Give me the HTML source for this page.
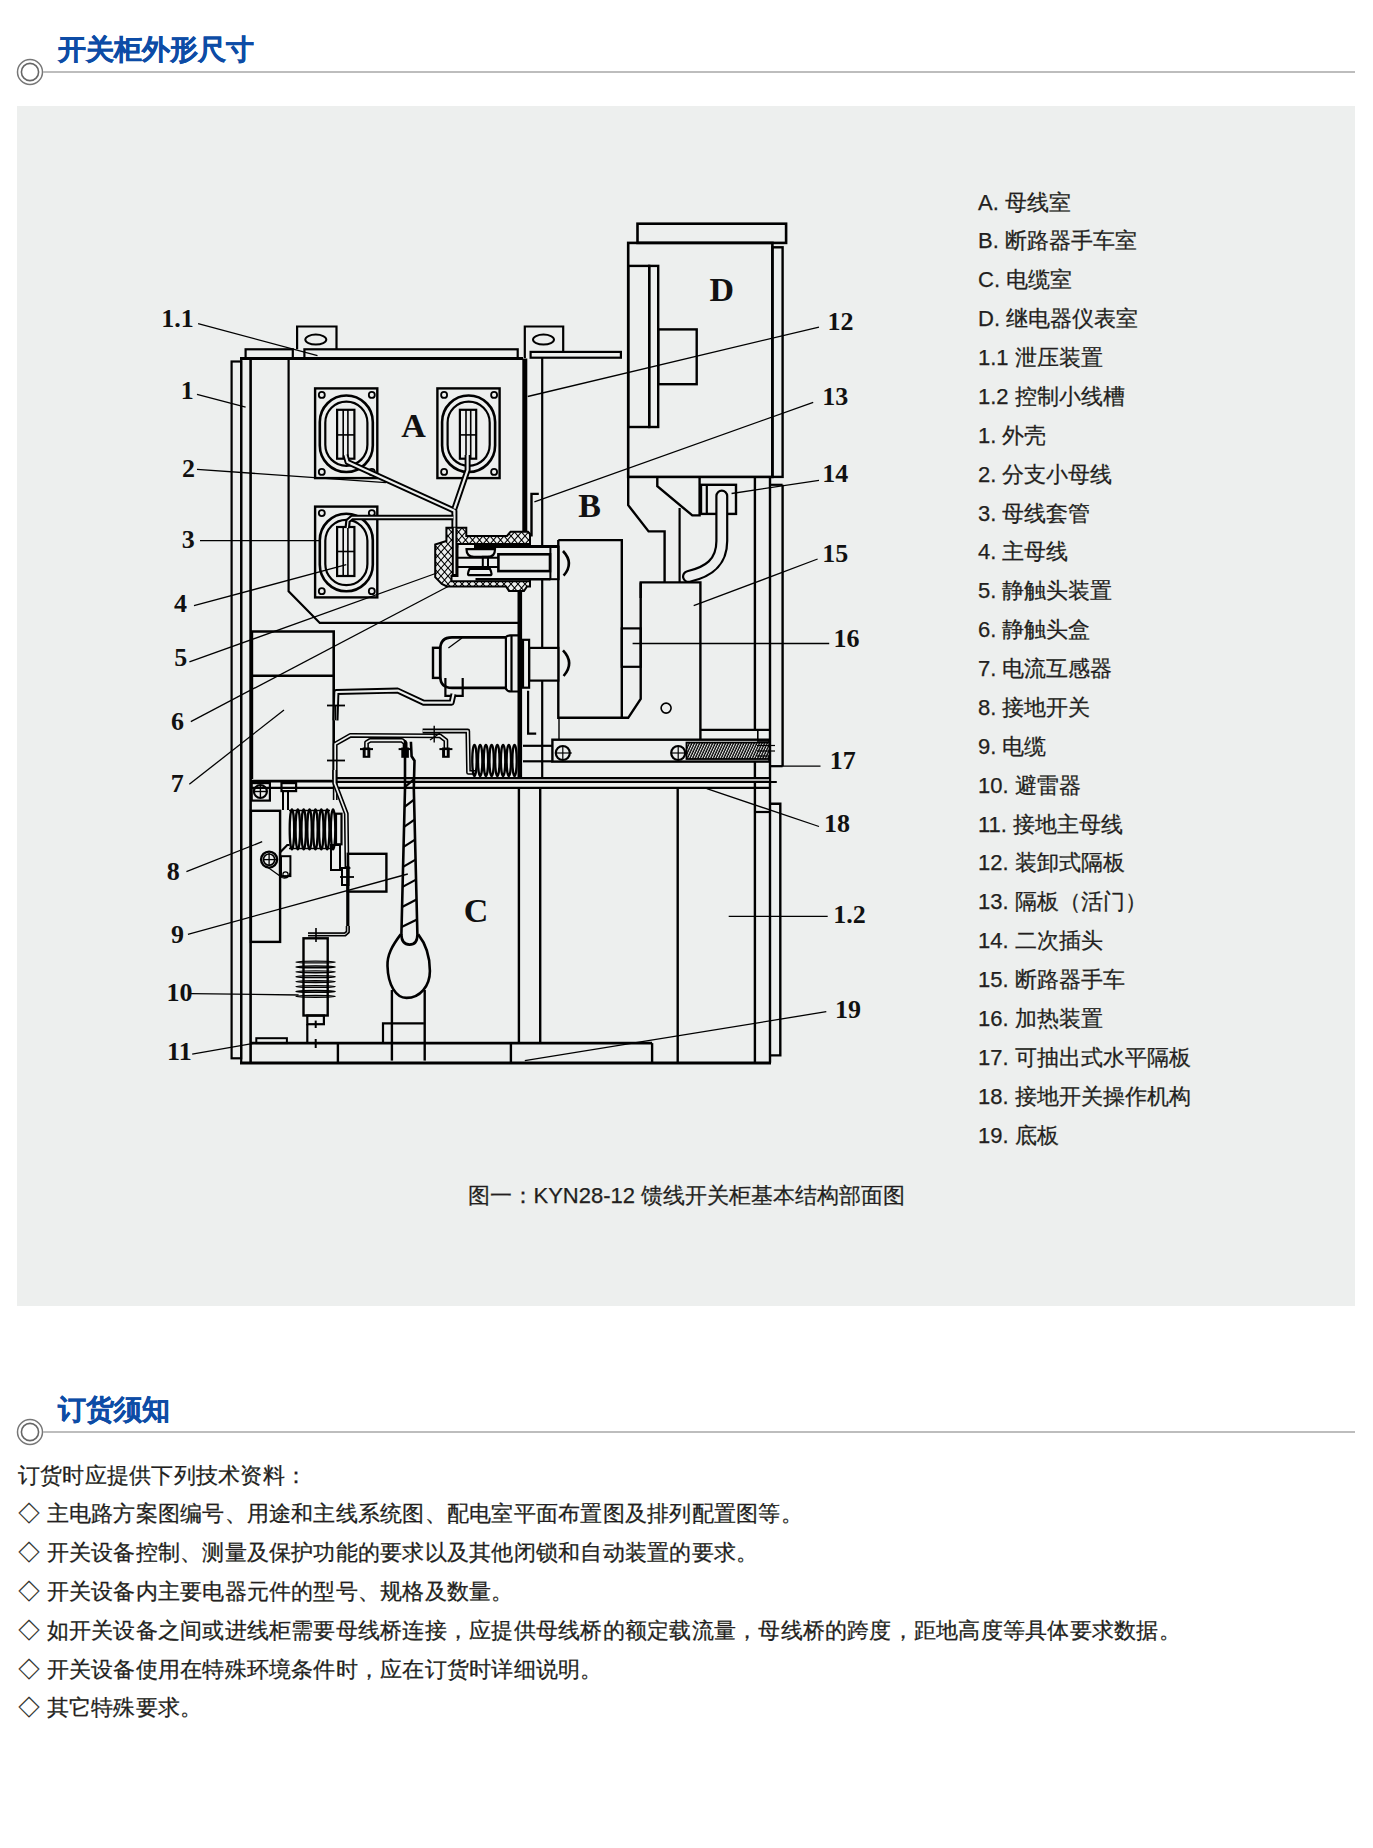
<!DOCTYPE html>
<html><head><meta charset="utf-8">
<style>
html,body{margin:0;padding:0;background:#fff;}
body{width:1373px;height:1848px;position:relative;overflow:hidden;font-family:"Liberation Sans",sans-serif;color:#231f20;}
.hd{position:absolute;left:0;}
.ht{position:absolute;left:58px;font-size:27.5px;font-weight:bold;color:#0d4ca6;-webkit-text-stroke:0.35px #0d4ca6;line-height:36px;white-space:nowrap;}
.gray{position:absolute;left:17px;top:106px;width:1338px;height:1200px;background:#edefee;}
.li{position:absolute;left:978px;font-size:22px;line-height:38px;white-space:nowrap;color:#231f20;-webkit-text-stroke:0.25px #231f20;}
.cap{position:absolute;left:467.5px;top:1176.5px;font-size:22px;line-height:38px;white-space:nowrap;-webkit-text-stroke:0.25px #231f20;}
.bl{position:absolute;left:18px;font-size:22px;letter-spacing:0.24px;line-height:38px;white-space:nowrap;-webkit-text-stroke:0.25px #231f20;}
svg.dg{position:absolute;left:0;top:0;}
svg.dg text{font-family:"Liberation Serif",serif;font-weight:bold;fill:#111;stroke:none;}
</style></head><body>
<svg class="hd" style="top:58px" width="1373" height="28" viewBox="0 58 1373 28">
<circle cx="30" cy="72" r="12.5" fill="#fff" stroke="#777" stroke-width="1.5"/>
<circle cx="30" cy="72" r="8.6" fill="none" stroke="#666" stroke-width="1.6"/>
<line x1="43" y1="72" x2="1355" y2="72" stroke="#bdbdbd" stroke-width="2"/>
</svg>
<div class="ht" style="top:31.5px">开关柜外形尺寸</div>
<div class="gray"></div>
<svg class="dg" width="1373" height="1848" viewBox="0 0 1373 1848">
<defs>
<pattern id="hx" width="7" height="8" patternUnits="userSpaceOnUse">
<rect width="7" height="8" fill="#edefee"/>
<path d="M0,0 L7,8 M7,0 L0,8" stroke="#000" stroke-width="1.1"/>
</pattern>
<pattern id="hz" width="2.6" height="16" patternUnits="userSpaceOnUse" patternTransform="skewX(-25)">
<rect width="2.6" height="16" fill="#edefee"/>
<line x1="1" y1="0" x2="1" y2="16" stroke="#000" stroke-width="1.5"/>
</pattern>
</defs>
<g stroke="#000" fill="none" stroke-linecap="butt">
<rect x="231.6" y="361.5" width="9.6" height="696.8" stroke-width="2.2" fill="none"/>
<line x1="241.2" y1="358.6" x2="241.2" y2="1063.5" stroke-width="2.2"/>
<line x1="250.6" y1="358.6" x2="250.6" y2="1063" stroke-width="2.6"/>
<line x1="240" y1="358.6" x2="523" y2="358.6" stroke-width="3.0"/>
<rect x="245.6" y="349.3" width="47.2" height="9.3" stroke-width="2.2" fill="none"/>
<polyline points="297.1,349.3 297.1,326.5 336.5,326.5 336.5,349.3" stroke-width="2.2" fill="none"/>
<ellipse cx="315.8" cy="339.6" rx="10.5" ry="5.0" stroke-width="2.0" fill="none"/>
<rect x="304.4" y="349.3" width="213.3" height="9.3" stroke-width="2.2" fill="none"/>
<polyline points="524.8,358 524.8,326.5 563.2,326.5 563.2,351.9" stroke-width="2.2" fill="none"/>
<ellipse cx="543.5" cy="339.6" rx="10.5" ry="5.0" stroke-width="2.0" fill="none"/>
<rect x="530.6" y="351.9" width="90.3" height="5.8" stroke-width="2.2" fill="none"/>
<polyline points="288.6,358.6 288.6,591.3 319.8,622.9 518,622.9" stroke-width="2.2" fill="none"/>
<line x1="524.8" y1="358.6" x2="524.8" y2="532.4" stroke-width="5.0"/>
<line x1="542.2" y1="357.7" x2="542.2" y2="779" stroke-width="2.2"/>
<line x1="519.8" y1="588" x2="519.8" y2="778" stroke-width="4.6"/>
<rect x="315.1" y="388.4" width="62.2" height="89.7" stroke-width="2.4" fill="none"/>
<circle cx="321.8" cy="394.9" r="3.0" stroke-width="1.8" fill="none"/>
<circle cx="371.8" cy="394.9" r="3.0" stroke-width="1.8" fill="none"/>
<circle cx="321.8" cy="471.90000000000003" r="3.0" stroke-width="1.8" fill="none"/>
<circle cx="371.8" cy="471.90000000000003" r="3.0" stroke-width="1.8" fill="none"/>
<rect x="319.8" y="395.5" width="53.0" height="76.5" stroke-width="2.6" fill="none" rx="26.5"/>
<rect x="325.3" y="401.59999999999997" width="42.1" height="64.2" stroke-width="2.2" fill="none" rx="21.05000000000001"/>
<rect x="337.1" y="409.8" width="17.3" height="48.9" stroke-width="2.2" fill="none"/>
<line x1="343.20000000000005" y1="409.8" x2="343.20000000000005" y2="458.7" stroke-width="1.6"/>
<line x1="347.90000000000003" y1="409.8" x2="347.90000000000003" y2="458.7" stroke-width="1.6"/>
<line x1="337.1" y1="434.9" x2="354.4" y2="434.9" stroke-width="1.6"/>
<rect x="437.4" y="388.4" width="62.2" height="89.7" stroke-width="2.4" fill="none"/>
<circle cx="444.09999999999997" cy="394.9" r="3.0" stroke-width="1.8" fill="none"/>
<circle cx="494.1" cy="394.9" r="3.0" stroke-width="1.8" fill="none"/>
<circle cx="444.09999999999997" cy="471.90000000000003" r="3.0" stroke-width="1.8" fill="none"/>
<circle cx="494.1" cy="471.90000000000003" r="3.0" stroke-width="1.8" fill="none"/>
<rect x="442.09999999999997" y="395.5" width="53.0" height="76.5" stroke-width="2.6" fill="none" rx="26.50000000000003"/>
<rect x="447.59999999999997" y="401.59999999999997" width="42.1" height="64.2" stroke-width="2.2" fill="none" rx="21.05000000000004"/>
<rect x="459.9" y="409.8" width="16.3" height="48.9" stroke-width="2.2" fill="none"/>
<line x1="466.0" y1="409.8" x2="466.0" y2="458.7" stroke-width="1.6"/>
<line x1="470.7" y1="409.8" x2="470.7" y2="458.7" stroke-width="1.6"/>
<line x1="459.9" y1="434.9" x2="476.2" y2="434.9" stroke-width="1.6"/>
<rect x="315.1" y="506.6" width="62.2" height="90.8" stroke-width="2.4" fill="none"/>
<circle cx="321.8" cy="513.1" r="3.0" stroke-width="1.8" fill="none"/>
<circle cx="371.8" cy="513.1" r="3.0" stroke-width="1.8" fill="none"/>
<circle cx="321.8" cy="591.1999999999999" r="3.0" stroke-width="1.8" fill="none"/>
<circle cx="371.8" cy="591.1999999999999" r="3.0" stroke-width="1.8" fill="none"/>
<rect x="319.8" y="513.7" width="53.0" height="77.6" stroke-width="2.6" fill="none" rx="26.5"/>
<rect x="325.3" y="519.8000000000001" width="42.1" height="65.3" stroke-width="2.2" fill="none" rx="21.05000000000001"/>
<rect x="337.1" y="527.0" width="17.3" height="49.0" stroke-width="2.2" fill="none"/>
<line x1="343.20000000000005" y1="527.0" x2="343.20000000000005" y2="576.0" stroke-width="1.6"/>
<line x1="347.90000000000003" y1="527.0" x2="347.90000000000003" y2="576.0" stroke-width="1.6"/>
<line x1="337.1" y1="551.5" x2="354.4" y2="551.5" stroke-width="1.6"/>
<path d="M345.5,455 L347.5,462 L454.4,510.7 L454.4,574" stroke-width="6.0" fill="none" stroke-linejoin="round"/>
<path d="M345.5,455 L347.5,462 L454.4,510.7 L454.4,574" stroke-width="2.2" fill="none" stroke="#edefee" stroke-linejoin="round"/>
<path d="M467.6,455 L467.6,470 L454.4,508.7" stroke-width="6.0" fill="none" stroke-linejoin="round"/>
<path d="M467.6,455 L467.6,470 L454.4,508.7" stroke-width="2.2" fill="none" stroke="#edefee" stroke-linejoin="round"/>
<path d="M347.3,528 L348,521 L352,517.5 L453.3,517.5" stroke-width="5.6" fill="none" stroke-linejoin="round"/>
<path d="M347.3,528 L348,521 L352,517.5 L453.3,517.5" stroke-width="1.3" fill="none" stroke="#edefee" stroke-linejoin="round"/>
<path d="M446.4,527.7 L466.3,527.7 L466.3,535.9 L507,535.9 L510.5,531.8 L528,531.8 L530,534 L530,586.4 L527,586.4 L524,591 L509,591 L506,586.4 L447,586.4 L441.8,584 L435.2,577.2 L435.2,544.6 L446.4,541 Z M457.6,544.1 L530,544.1 L530,581.3 L451.5,581.3 L451.5,576 L457.6,576 Z" stroke-width="2.0" fill="url(#hx)" fill-rule="evenodd"/>
<path d="M454.6,527.7 L454.6,575" stroke-width="5.6" fill="none" stroke-linejoin="round"/>
<path d="M454.6,527.7 L454.6,575" stroke-width="1.6" fill="none" stroke="#edefee" stroke-linejoin="round"/>
<line x1="451.6" y1="575" x2="457.8" y2="575" stroke-width="2.0"/>
<rect x="458.8" y="547.8" width="98.6" height="30.2" fill="#edefee" stroke="none"/>
<line x1="474" y1="546.6" x2="558.6" y2="546.6" stroke-width="3.0"/>
<line x1="475.5" y1="579.2" x2="550.4" y2="579.2" stroke-width="2.4"/>
<line x1="457.6" y1="557.8" x2="498.4" y2="557.8" stroke-width="2.0"/>
<line x1="457.6" y1="567" x2="498.4" y2="567" stroke-width="2.0"/>
<rect x="498.4" y="554.3" width="51.6" height="16.8" stroke-width="2.6" fill="none"/>
<rect x="550.4" y="546.6" width="8.2" height="32.6" stroke-width="2.0" fill="none"/>
<path d="M466.5,549.2 L495,549.2 Q495,556.8 488,556.8 L474,556.8 Q466.5,556.8 466.5,549.2 Z" stroke-width="2.2" fill="none"/>
<path d="M469.5,569 L490,569 Q493,575.2 490,575.2 L469.5,575.2 Q466.5,575.2 469.5,569 Z" stroke-width="2.2" fill="none"/>
<rect x="482.8" y="556.8" width="5.2" height="12.2" stroke-width="2.0" fill="none"/>
<rect x="637.5" y="223.7" width="148.6" height="19.2" stroke-width="2.6" fill="none"/>
<rect x="628.2" y="242.9" width="144.2" height="234.0" stroke-width="2.6" fill="none"/>
<rect x="772.4" y="247.3" width="10.2" height="229.6" stroke-width="2.4" fill="none"/>
<rect x="628.2" y="265.9" width="21.0" height="161.1" stroke-width="2.4" fill="none"/>
<rect x="649.2" y="265.9" width="9.0" height="161.1" stroke-width="2.4" fill="none"/>
<rect x="658.2" y="329.4" width="38.5" height="54.8" stroke-width="2.4" fill="none"/>
<polyline points="628.2,476.9 628.2,505.2 648.6,531.4 664.6,531.4 664.6,582.4" stroke-width="2.4" fill="none"/>
<polyline points="657.3,476.9 657.3,486.2 692.3,515.4 699.6,515.4 699.6,476.9" stroke-width="2.4" fill="none"/>
<line x1="679.6" y1="508" x2="679.6" y2="582.4" stroke-width="2.2"/>
<rect x="701" y="484.8" width="35" height="29.1" stroke-width="2.4" fill="none"/>
<line x1="706.8" y1="484.8" x2="706.8" y2="513.9" stroke-width="2.2"/>
<path d="M721.8,496 L721.8,541 C721.8,563 708,572 688.5,576.5" stroke-width="13" fill="none" stroke-linecap="round"/>
<path d="M721.8,496 L721.8,541 C721.8,563 708,572 688.5,576.5" stroke-width="8.6" fill="none" stroke="#edefee" stroke-linecap="round"/>
<line x1="770" y1="484.8" x2="782.6" y2="484.8" stroke-width="2.2"/>
<line x1="754.9" y1="476.9" x2="754.9" y2="730" stroke-width="2.4"/>
<line x1="754.9" y1="761" x2="754.9" y2="1062.7" stroke-width="2.4"/>
<line x1="770.0" y1="476.9" x2="770.0" y2="1062.7" stroke-width="2.4"/>
<line x1="782.6" y1="484.8" x2="782.6" y2="766.2" stroke-width="2.4"/>
<line x1="770" y1="766.2" x2="782.6" y2="766.2" stroke-width="2.2"/>
<polyline points="640.7,598 640.7,582.4 700.4,582.4 700.4,740" stroke-width="2.4" fill="none"/>
<line x1="559" y1="717.8" x2="559" y2="740" stroke-width="1.4"/>
<line x1="700.4" y1="729.8" x2="770" y2="729.8" stroke-width="2.2"/>
<rect x="757.8" y="729.8" width="12.2" height="11.2" stroke-width="1.6" fill="none"/>
<polyline points="558.3,540.1 621.8,540.1 621.8,717.8 558.3,717.8 558.3,540.1" stroke-width="2.4" fill="none"/>
<polyline points="640.7,582.4 640.7,698.9 628.2,717.8 621.8,717.8" stroke-width="2.4" fill="none"/>
<rect x="621.8" y="628.4" width="18.9" height="38.4" stroke-width="2.2" fill="none"/>
<path d="M563,551 Q574.5,563.3 563.6,575.7" stroke-width="2.6" fill="none"/>
<path d="M563,650.4 Q575,663 563.6,676" stroke-width="2.6" fill="none"/>
<circle cx="666.1" cy="708.1" r="5.0" stroke-width="1.6" fill="none"/>
<rect x="529.1" y="647.9" width="29.2" height="32.7" stroke-width="2.2" fill="#edefee"/>
<rect x="523" y="639.8" width="6.1" height="47.9" stroke-width="2.2" fill="none"/>
<polyline points="251.9,779 251.9,631.5 333.7,631.5 333.7,779" stroke-width="2.6" fill="none"/>
<line x1="251.9" y1="675.7" x2="333.7" y2="675.7" stroke-width="2.6"/>
<path d="M506,637.4 L452,637.4 Q440.2,637.4 440.2,649.4 L440.2,676 Q440.2,687.9 452,687.9 L506,687.9" stroke-width="2.6" fill="none"/>
<rect x="433" y="647.8" width="7.2" height="30.1" stroke-width="2.4" fill="none"/>
<path d="M505.5,637.4 Q507,635.4 510.5,635.4 L518,635.4 M505.5,687.9 Q507,691.5 510.5,691.5 L518,691.5" stroke-width="2.2" fill="none"/>
<line x1="505.9" y1="637.4" x2="505.9" y2="687.9" stroke-width="2.2"/>
<line x1="511.5" y1="635.4" x2="511.5" y2="691.5" stroke-width="2.2"/>
<line x1="448.4" y1="648" x2="462" y2="638" stroke-width="1.3"/>
<polyline points="445.4,677.9 445.4,695.9 462.7,695.9 462.7,677.9" stroke-width="2.2" fill="none"/>
<path d="M335.5,720.3 L336.4,692 L397.7,690.6 L423.7,702.7 L451.6,702.7 L453.5,694" stroke-width="6.0" fill="none" stroke-linejoin="round"/>
<path d="M335.5,720.3 L336.4,692 L397.7,690.6 L423.7,702.7 L451.6,702.7 L453.5,694" stroke-width="2.2" fill="none" stroke="#edefee" stroke-linejoin="round"/>
<polyline points="528.1,690.8 528.1,733.6 536.2,733.6" stroke-width="2.2" fill="none"/>
<rect x="552.4" y="739.7" width="217.1" height="21.9" stroke-width="2.4" fill="none"/>
<circle cx="562.8" cy="753.0" r="7.0" stroke-width="2.2" fill="none"/>
<line x1="555.8" y1="753" x2="571.8" y2="753" stroke-width="1.2"/>
<line x1="562.8" y1="746" x2="562.8" y2="760" stroke-width="1.2"/>
<circle cx="678.2" cy="753.0" r="7.0" stroke-width="2.2" fill="none"/>
<line x1="671.2" y1="753" x2="687.2" y2="753" stroke-width="1.2"/>
<line x1="678.2" y1="746" x2="678.2" y2="760" stroke-width="1.2"/>
<rect x="686.5" y="742.6" width="83.0" height="16.4" stroke-width="1.8" fill="url(#hz)"/>
<line x1="757" y1="745.5" x2="775" y2="745.5" stroke-width="1.2"/>
<line x1="757" y1="751" x2="775" y2="751" stroke-width="1.2"/>
<line x1="757" y1="756" x2="770" y2="756" stroke-width="1.2"/>
<line x1="523" y1="745.8" x2="552.4" y2="745.8" stroke-width="2.2"/>
<line x1="523" y1="761.3" x2="552.4" y2="761.3" stroke-width="2.2"/>
<rect x="335" y="778.9" width="434" height="2.1" fill="#b0b0b0" stroke="none"/>
<line x1="250.6" y1="781.2" x2="336" y2="781.2" stroke-width="2.8"/>
<line x1="335" y1="777.9" x2="769" y2="777.9" stroke-width="2.0"/>
<line x1="335" y1="782" x2="776.8" y2="782" stroke-width="2.0"/>
<line x1="250.6" y1="787.9" x2="771" y2="787.9" stroke-width="2.2"/>
<path d="M335.2,800 L335.2,744 L350.5,735.3 L440,735.8 L445.9,740.4 L445.9,756.4" stroke-width="4.8" fill="none" stroke-linejoin="round"/>
<path d="M335.2,800 L335.2,744 L350.5,735.3 L440,735.8 L445.9,740.4 L445.9,756.4" stroke-width="1.7" fill="none" stroke="#edefee" stroke-linejoin="round"/>
<path d="M422.6,731 L467.8,731 L468.5,772.4 L475,772.4" stroke-width="4.8" fill="none" stroke-linejoin="round"/>
<path d="M422.6,731 L467.8,731 L468.5,772.4 L475,772.4" stroke-width="1.7" fill="none" stroke="#edefee" stroke-linejoin="round"/>
<path d="M366.5,756.4 L366.5,742.5 L370,740.4 L402,740.4 L405.1,743 L405.1,756" stroke-width="4.8" fill="none" stroke-linejoin="round"/>
<path d="M366.5,756.4 L366.5,742.5 L370,740.4 L402,740.4 L405.1,743 L405.1,756" stroke-width="1.7" fill="none" stroke="#edefee" stroke-linejoin="round"/>
<line x1="360.0" y1="749.1" x2="373.0" y2="749.1" stroke-width="2.0"/>
<rect x="363.7" y="748.5" width="5.6" height="8.3" stroke-width="2.0" fill="none"/>
<line x1="398.6" y1="749.1" x2="411.6" y2="749.1" stroke-width="2.0"/>
<rect x="402.3" y="748.5" width="5.6" height="8.3" stroke-width="2.0" fill="none"/>
<line x1="439.4" y1="749.1" x2="452.4" y2="749.1" stroke-width="2.0"/>
<rect x="443.09999999999997" y="748.5" width="5.6" height="8.3" stroke-width="2.0" fill="none"/>
<line x1="434.2" y1="725.8" x2="434.2" y2="742.6" stroke-width="1.4"/>
<ellipse cx="474.46" cy="760.45" rx="2.18" ry="15.650000000000034" stroke-width="2.3" fill="none"/>
<ellipse cx="480.19" cy="760.45" rx="2.18" ry="15.650000000000034" stroke-width="2.3" fill="none"/>
<ellipse cx="485.91" cy="760.45" rx="2.18" ry="15.650000000000034" stroke-width="2.3" fill="none"/>
<ellipse cx="491.64" cy="760.45" rx="2.18" ry="15.650000000000034" stroke-width="2.3" fill="none"/>
<ellipse cx="497.36" cy="760.45" rx="2.18" ry="15.650000000000034" stroke-width="2.3" fill="none"/>
<ellipse cx="503.09" cy="760.45" rx="2.18" ry="15.650000000000034" stroke-width="2.3" fill="none"/>
<ellipse cx="508.81" cy="760.45" rx="2.18" ry="15.650000000000034" stroke-width="2.3" fill="none"/>
<ellipse cx="514.54" cy="760.45" rx="2.18" ry="15.650000000000034" stroke-width="2.3" fill="none"/>
<line x1="335.5" y1="705" x2="335.5" y2="720" stroke-width="1.8"/>
<line x1="327" y1="705.5" x2="345" y2="705.5" stroke-width="1.8"/>
<line x1="327" y1="760.5" x2="345" y2="760.5" stroke-width="1.8"/>
<line x1="430" y1="740" x2="440" y2="733" stroke-width="1.4"/>
<line x1="518.9" y1="788" x2="518.9" y2="1043.1" stroke-width="2.4"/>
<line x1="540.2" y1="788" x2="540.2" y2="1043.1" stroke-width="2.4"/>
<line x1="677.7" y1="788" x2="677.7" y2="1062.7" stroke-width="2.4"/>
<polyline points="770.4,803.8 780.3,803.8 780.3,1055.4 770.4,1055.4" stroke-width="2.4" fill="none"/>
<line x1="754.9" y1="812" x2="770.4" y2="812" stroke-width="2.2"/>
<line x1="250.6" y1="1043.1" x2="652.1" y2="1043.1" stroke-width="2.6"/>
<line x1="240" y1="1063" x2="771" y2="1063" stroke-width="2.8"/>
<line x1="337.9" y1="1043.1" x2="337.9" y2="1063" stroke-width="2.4"/>
<line x1="510.9" y1="1043.1" x2="510.9" y2="1063" stroke-width="2.4"/>
<line x1="652.1" y1="1043.1" x2="652.1" y2="1063" stroke-width="2.4"/>
<rect x="256.3" y="1038.2" width="30.6" height="4.9" stroke-width="2.0" fill="none"/>
<rect x="250.9" y="810.8" width="29.2" height="131.1" stroke-width="2.4" fill="none"/>
<rect x="251.7" y="783.1" width="18.2" height="17.5" stroke-width="2.2" fill="none"/>
<circle cx="260.4" cy="791.5" r="6.5" stroke-width="2.2" fill="none"/>
<line x1="254" y1="791.5" x2="267" y2="791.5" stroke-width="1.4"/>
<line x1="260.4" y1="785" x2="260.4" y2="798" stroke-width="1.4"/>
<rect x="281.5" y="783.1" width="14.6" height="8.0" stroke-width="2.2" fill="none"/>
<line x1="283" y1="791" x2="283" y2="810" stroke-width="2.0"/>
<line x1="288" y1="791" x2="288" y2="810" stroke-width="2.0"/>
<line x1="289" y1="810.5" x2="330" y2="810.5" stroke-width="1.6"/>
<line x1="289" y1="848.5" x2="330" y2="848.5" stroke-width="1.6"/>
<ellipse cx="291.94" cy="829.45" rx="2.23" ry="19.94999999999999" stroke-width="2.3" fill="none"/>
<ellipse cx="297.81" cy="829.45" rx="2.23" ry="19.94999999999999" stroke-width="2.3" fill="none"/>
<ellipse cx="303.69" cy="829.45" rx="2.23" ry="19.94999999999999" stroke-width="2.3" fill="none"/>
<ellipse cx="309.56" cy="829.45" rx="2.23" ry="19.94999999999999" stroke-width="2.3" fill="none"/>
<ellipse cx="315.44" cy="829.45" rx="2.23" ry="19.94999999999999" stroke-width="2.3" fill="none"/>
<ellipse cx="321.31" cy="829.45" rx="2.23" ry="19.94999999999999" stroke-width="2.3" fill="none"/>
<ellipse cx="327.19" cy="829.45" rx="2.23" ry="19.94999999999999" stroke-width="2.3" fill="none"/>
<ellipse cx="333.06" cy="829.45" rx="2.23" ry="19.94999999999999" stroke-width="2.3" fill="none"/>
<rect x="336" y="813.7" width="5.5" height="30.6" stroke-width="2.2" fill="none"/>
<circle cx="269.1" cy="859.6" r="8.0" stroke-width="2.4" fill="none"/>
<circle cx="269.1" cy="859.6" r="5.6" stroke-width="1.6" fill="none"/>
<line x1="263" y1="859.6" x2="276" y2="859.6" stroke-width="1.3"/>
<line x1="269.1" y1="853" x2="269.1" y2="866" stroke-width="1.3"/>
<polyline points="280,876 280,852.5 287.3,845 289.5,845" stroke-width="2.2" fill="none"/>
<rect x="281" y="856.2" width="9.4" height="19.9" stroke-width="2.0" fill="none"/>
<path d="M266,866 L282,877.5 Q286,879 289,876 L290,873" stroke-width="1.3" fill="none"/>
<circle cx="285.5" cy="874.5" r="2.6" stroke-width="1.2" fill="none"/>
<rect x="331" y="845" width="9" height="25" stroke-width="2.0" fill="none"/>
<path d="M334.7,770 L334.7,783.1 L346.3,813.7 L347,869" stroke-width="4.8" fill="none" stroke-linejoin="round"/>
<path d="M334.7,770 L334.7,783.1 L346.3,813.7 L347,869" stroke-width="1.7" fill="none" stroke="#edefee" stroke-linejoin="round"/>
<path d="M347.8,866 L347.8,930" stroke-width="3.2" fill="none"/>
<path d="M347.8,926 L347.8,932 L345,934.4 L308,934.4" stroke-width="4.2" fill="none" stroke-linejoin="round"/>
<path d="M347.8,926 L347.8,932 L345,934.4 L308,934.4" stroke-width="1.0" fill="none" stroke="#edefee" stroke-linejoin="round"/>
<rect x="342" y="868" width="6.5" height="17" stroke-width="2.0" fill="none"/>
<line x1="343.5" y1="868" x2="350.5" y2="868" stroke-width="1.4"/>
<line x1="340" y1="877" x2="354" y2="877" stroke-width="1.8"/>
<rect x="347.8" y="853.8" width="38.6" height="37.8" stroke-width="2.4" fill="none"/>
<line x1="316" y1="928" x2="316" y2="942" stroke-width="1.6"/>
<path d="M405,740.2 L405,788.4 L401.4,934.4 Q401.6,944.6 409.5,944.6 Q417.4,944.6 417.4,934.4 L413.8,788.4 L414.5,760.7 L411.6,756.3 L410.9,741.7" stroke-width="2.6" fill="none"/>
<line x1="405.04" y1="786.9" x2="413.58" y2="779.6" stroke-width="2.2"/>
<line x1="404.54" y1="806.9" x2="414.08" y2="799.6" stroke-width="2.2"/>
<line x1="404.05" y1="826.9" x2="414.57" y2="819.6" stroke-width="2.2"/>
<line x1="403.56" y1="846.9" x2="415.06" y2="839.6" stroke-width="2.2"/>
<line x1="403.06" y1="866.9" x2="415.56" y2="859.6" stroke-width="2.2"/>
<line x1="402.57" y1="886.9" x2="416.05" y2="879.6" stroke-width="2.2"/>
<line x1="402.08" y1="906.9" x2="416.54" y2="899.6" stroke-width="2.2"/>
<line x1="401.58" y1="926.9" x2="417.04" y2="919.6" stroke-width="2.2"/>
<path d="M400.7,934.4 C392,946 387,955 387.5,966 C388,985 396,997.9 406.5,997.9 C420,997.9 429.9,986 429.9,970.9 C429.9,955 425,943 418.2,934.4" stroke-width="2.6" fill="none"/>
<line x1="391.9" y1="990" x2="391.9" y2="1060.6" stroke-width="2.4"/>
<line x1="424.7" y1="990" x2="424.7" y2="1060.6" stroke-width="2.4"/>
<polyline points="383,1043 383,1023.3 423.9,1023.3" stroke-width="2.2" fill="none"/>
<rect x="303.5" y="938.3" width="24.2" height="77.2" stroke-width="2.4" fill="none"/>
<ellipse cx="315.6" cy="962.0" rx="19.5" ry="0.9" stroke-width="1.45" fill="none"/>
<ellipse cx="315.6" cy="966.9" rx="19.5" ry="0.9" stroke-width="1.45" fill="none"/>
<ellipse cx="315.6" cy="971.8" rx="19.5" ry="0.9" stroke-width="1.45" fill="none"/>
<ellipse cx="315.6" cy="976.7" rx="19.5" ry="0.9" stroke-width="1.45" fill="none"/>
<ellipse cx="315.6" cy="981.6" rx="19.5" ry="0.9" stroke-width="1.45" fill="none"/>
<ellipse cx="315.6" cy="986.5" rx="19.5" ry="0.9" stroke-width="1.45" fill="none"/>
<ellipse cx="315.6" cy="991.4" rx="19.5" ry="0.9" stroke-width="1.45" fill="none"/>
<ellipse cx="315.6" cy="996.3" rx="19.5" ry="0.9" stroke-width="1.45" fill="none"/>
<rect x="307.3" y="1015.5" width="16.6" height="8.7" stroke-width="2.2" fill="none"/>
<line x1="307.3" y1="1024.2" x2="307.3" y2="1043" stroke-width="2.2"/>
<line x1="315.7" y1="1020.6" x2="315.7" y2="1028" stroke-width="2.0"/>
<line x1="315.7" y1="1039" x2="315.7" y2="1048" stroke-width="2.0"/>
<line x1="198.1" y1="323.6" x2="317.5" y2="355.7" stroke-width="1.3"/>
<line x1="197" y1="394.3" x2="245.6" y2="407.2" stroke-width="1.3"/>
<line x1="197" y1="469.3" x2="386" y2="482.7" stroke-width="1.3"/>
<line x1="200" y1="540.6" x2="319.5" y2="540.6" stroke-width="1.3"/>
<line x1="194" y1="605.7" x2="346.3" y2="564.6" stroke-width="1.3"/>
<line x1="189.4" y1="661.9" x2="435.5" y2="573.5" stroke-width="1.3"/>
<line x1="190.8" y1="721.6" x2="449" y2="586" stroke-width="1.3"/>
<line x1="189.3" y1="784.3" x2="284" y2="710" stroke-width="1.3"/>
<line x1="186.4" y1="871.7" x2="262.2" y2="841.7" stroke-width="1.3"/>
<line x1="187.9" y1="934.3" x2="407.8" y2="874" stroke-width="1.3"/>
<line x1="190.8" y1="993.6" x2="298.6" y2="995" stroke-width="1.3"/>
<line x1="192.2" y1="1054.2" x2="254.9" y2="1043.1" stroke-width="1.3"/>
<line x1="819" y1="327.1" x2="527.7" y2="396.5" stroke-width="1.3"/>
<line x1="813.2" y1="402.3" x2="534.4" y2="501.8" stroke-width="1.3"/>
<line x1="819" y1="480.4" x2="731.6" y2="493.5" stroke-width="1.3"/>
<line x1="817.6" y1="559" x2="693.7" y2="605.7" stroke-width="1.3"/>
<line x1="829.2" y1="643.5" x2="632.6" y2="643.5" stroke-width="1.3"/>
<line x1="820.5" y1="766.2" x2="771" y2="766.2" stroke-width="1.3"/>
<line x1="819" y1="826.5" x2="706.8" y2="788.7" stroke-width="1.3"/>
<line x1="827.7" y1="916.3" x2="728.7" y2="916.3" stroke-width="1.3"/>
<line x1="826.3" y1="1011.7" x2="524.8" y2="1060.6" stroke-width="1.3"/>
<polyline points="538.8,493.9 531.5,493.9 531.5,536.4" stroke-width="2.4" fill="none"/>
<text x="177.4" y="326.5" font-size="26" text-anchor="middle">1.1</text>
<text x="187.3" y="398.5" font-size="26" text-anchor="middle">1</text>
<text x="188.6" y="476.5" font-size="26" text-anchor="middle">2</text>
<text x="188.3" y="547.9" font-size="26" text-anchor="middle">3</text>
<text x="180.4" y="611.6" font-size="26" text-anchor="middle">4</text>
<text x="180.8" y="666.1" font-size="26" text-anchor="middle">5</text>
<text x="177.6" y="729.8" font-size="26" text-anchor="middle">6</text>
<text x="177.2" y="791.6" font-size="26" text-anchor="middle">7</text>
<text x="173.3" y="880.4" font-size="26" text-anchor="middle">8</text>
<text x="177.6" y="943" font-size="26" text-anchor="middle">9</text>
<text x="179.4" y="1000.9" font-size="26" text-anchor="middle">10</text>
<text x="179.4" y="1060" font-size="26" text-anchor="middle">11</text>
<text x="840.5" y="330.3" font-size="26" text-anchor="middle">12</text>
<text x="835.3" y="404.6" font-size="26" text-anchor="middle">13</text>
<text x="835.3" y="481.8" font-size="26" text-anchor="middle">14</text>
<text x="835.3" y="562" font-size="26" text-anchor="middle">15</text>
<text x="846.4" y="647" font-size="26" text-anchor="middle">16</text>
<text x="842.7" y="768.8" font-size="26" text-anchor="middle">17</text>
<text x="836.9" y="832.4" font-size="26" text-anchor="middle">18</text>
<text x="849.6" y="922.7" font-size="26" text-anchor="middle">1.2</text>
<text x="848.1" y="1018.4" font-size="26" text-anchor="middle">19</text>
<text x="413.6" y="437.2" font-size="34" text-anchor="middle">A</text>
<text x="589.6" y="516.8" font-size="34" text-anchor="middle">B</text>
<text x="476" y="922.1" font-size="34" text-anchor="middle">C</text>
<text x="721.7" y="300.9" font-size="34" text-anchor="middle">D</text>
</g>
</svg>
<div class="li" style="top:183.5px">A. 母线室</div>
<div class="li" style="top:222.38px">B. 断路器手车室</div>
<div class="li" style="top:261.25px">C. 电缆室</div>
<div class="li" style="top:300.12px">D. 继电器仪表室</div>
<div class="li" style="top:339.0px">1.1 泄压装置</div>
<div class="li" style="top:377.88px">1.2 控制小线槽</div>
<div class="li" style="top:416.75px">1. 外壳</div>
<div class="li" style="top:455.62px">2. 分支小母线</div>
<div class="li" style="top:494.5px">3. 母线套管</div>
<div class="li" style="top:533.38px">4. 主母线</div>
<div class="li" style="top:572.25px">5. 静触头装置</div>
<div class="li" style="top:611.12px">6. 静触头盒</div>
<div class="li" style="top:650.0px">7. 电流互感器</div>
<div class="li" style="top:688.88px">8. 接地开关</div>
<div class="li" style="top:727.75px">9. 电缆</div>
<div class="li" style="top:766.62px">10. 避雷器</div>
<div class="li" style="top:805.5px">11. 接地主母线</div>
<div class="li" style="top:844.38px">12. 装卸式隔板</div>
<div class="li" style="top:883.25px">13. 隔板（活门）</div>
<div class="li" style="top:922.12px">14. 二次插头</div>
<div class="li" style="top:961.0px">15. 断路器手车</div>
<div class="li" style="top:999.88px">16. 加热装置</div>
<div class="li" style="top:1038.75px">17. 可抽出式水平隔板</div>
<div class="li" style="top:1077.62px">18. 接地开关操作机构</div>
<div class="li" style="top:1116.5px">19. 底板</div>
<div class="cap">图一：KYN28-12 馈线开关柜基本结构部面图</div>
<svg class="hd" style="top:1418px" width="1373" height="28" viewBox="0 1418 1373 28">
<circle cx="30" cy="1432" r="12.5" fill="#fff" stroke="#777" stroke-width="1.5"/>
<circle cx="30" cy="1432" r="8.6" fill="none" stroke="#666" stroke-width="1.6"/>
<line x1="43" y1="1432" x2="1355" y2="1432" stroke="#bdbdbd" stroke-width="2"/>
</svg>
<div class="ht" style="top:1391.5px">订货须知</div>
<div class="bl" style="top:1456.5px">订货时应提供下列技术资料：</div>
<div class="bl" style="top:1495.3px">◇ 主电路方案图编号、用途和主线系统图、配电室平面布置图及排列配置图等。</div>
<div class="bl" style="top:1534.1px">◇ 开关设备控制、测量及保护功能的要求以及其他闭锁和自动装置的要求。</div>
<div class="bl" style="top:1572.9px">◇ 开关设备内主要电器元件的型号、规格及数量。</div>
<div class="bl" style="top:1611.7px">◇ 如开关设备之间或进线柜需要母线桥连接，应提供母线桥的额定载流量，母线桥的跨度，距地高度等具体要求数据。</div>
<div class="bl" style="top:1650.5px">◇ 开关设备使用在特殊环境条件时，应在订货时详细说明。</div>
<div class="bl" style="top:1689.3px">◇ 其它特殊要求。</div>
</body></html>
